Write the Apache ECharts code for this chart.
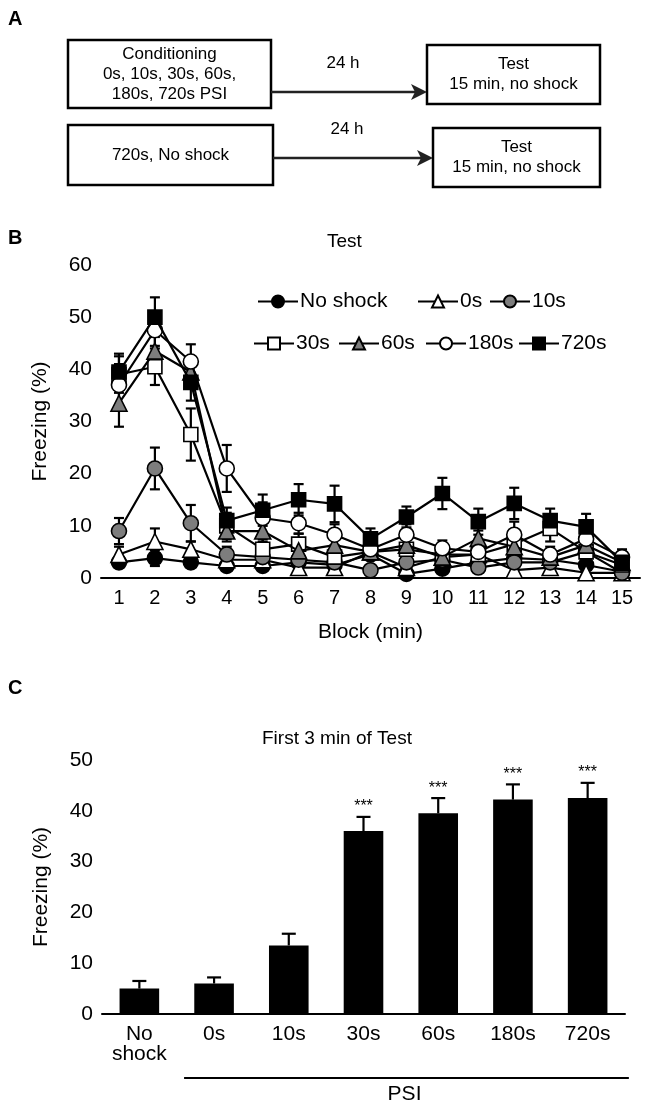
<!DOCTYPE html>
<html><head><meta charset="utf-8">
<script src="https://cdn.jsdelivr.net/npm/echarts@6/dist/echarts.min.js"></script>
<style>html,body{margin:0;padding:0;background:#fff}#c{width:646px;height:1104px}</style>
</head><body><div id="c"></div>
<script>
// ---------- DATA ----------
const protocolText = [
  ['Conditioning\n0s, 10s, 30s, 60s,\n180s, 720s PSI', '24 h', 'Test\n15 min, no shock'],
  ['720s, No shock', '24 h', 'Test\n15 min, no shock']
];
const blocks = ['1','2','3','4','5','6','7','8','9','10','11','12','13','14','15'];
const groupNames = ['No shock','0s','10s','30s','60s','180s','720s'];
const noShock    = [3, 3.8, 3, 2.3, 2.3, 3, 2.5, 4.5, 0.8, 1.8, 3, 3.8, 3.5, 2.5, 1.2];
const psi0s      = [4.5, 7, 5.5, 3.5, 3.5, 2, 2, 5, 2, 4, 4.5, 1.5, 2, 1, 1];
const psi10s     = [9, 21, 10.5, 4.5, 4, 3.5, 3, 1.5, 3, 3.5, 2, 3, 3, 5, 1];
const psi30s     = [39, 40.5, 27.5, 10, 5.5, 6.5, 4, 5, 5.5, 4.5, 4.5, 6.5, 9.5, 5, 2.5];
const psi60s     = [33.5, 43.5, 39.5, 9, 9, 5.2, 6.3, 5, 6.3, 4, 7.6, 6, 4, 6.3, 3];
const psi180s    = [37, 47.5, 41.5, 21, 11.5, 10.5, 8.3, 5.5, 8.3, 5.7, 5, 8.3, 4.5, 7.5, 4];
const psi720s    = [39.5, 50, 37.5, 11, 13, 15, 14.2, 7.5, 11.7, 16.2, 10.8, 14.3, 11, 9.8, 3];
const noShockErr = [1, 1.5, 0.8, 0.8, 0.8, 0.8, 0.8, 0.8, 0.8, 0.8, 0.8, 0.8, 0.8, 0.8, 0.8];
const psi0sErr   = [1.5, 2.5, 1.5, 1, 1, 1, 1, 1, 1, 1, 1, 1, 1, 1, 0.8];
const psi10sErr  = [2.5, 4, 3.5, 1.5, 1.5, 1, 1, 1, 1, 1, 1, 1, 1, 1, 0.8];
const psi30sErr  = [3.5, 3.5, 5, 2.5, 2, 2, 1.5, 1.5, 2, 1.5, 1.5, 2, 2.5, 1.5, 1];
const psi60sErr  = [4.5, 3, 3, 2, 2, 1.5, 1.5, 1.5, 1.5, 1.5, 1.5, 2, 1.5, 1.5, 1];
const psi180sErr = [4, 3, 3.3, 4.5, 3, 2, 2, 1.5, 2, 1.5, 2, 2.5, 1.5, 2, 1.5];
const psi720sErr = [3.5, 3.8, 3.5, 2.5, 3, 3, 3.5, 2, 2, 3, 2.5, 3, 2.3, 2.5, 2];
const barCats = ['No\nshock','0s','10s','30s','60s','180s','720s'];
const barVals = [5, 6, 13.5, 36, 39.5, 42.2, 42.5];
const barErr  = [1.5, 1.2, 2.3, 2.8, 3, 3, 3];
const barSig  = ['', '', '', '***', '***', '***', '***'];

// ---------- STYLE ----------
const FONT = 'Liberation Sans, Arial, sans-serif';
const GRAY = '#7d7d7d';
const groupValues = [noShock, psi0s, psi10s, psi30s, psi60s, psi180s, psi720s];
const groupErrs = [noShockErr, psi0sErr, psi10sErr, psi30sErr, psi60sErr, psi180sErr, psi720sErr];
const groupStyle = [
  {symbol:'circle', fill:'#000', size:15},
  {symbol:'triangle', fill:'#fff', size:16},
  {symbol:'circle', fill:GRAY, size:15},
  {symbol:'rect', fill:'#fff', size:14},
  {symbol:'triangle', fill:GRAY, size:16},
  {symbol:'circle', fill:'#fff', size:15},
  {symbol:'rect', fill:'#000', size:14}
];
const legendPos = [[252,286],[412,286],[484,286],[248,328],[333,328],[420,328],[513,328]];

const chart = echarts.init(document.getElementById('c'), null, {renderer:'canvas'});

function errItem(upOnly, cap){
  return function(params, api){
    const x = api.value(0), y = api.value(1), e = api.value(2);
    const p = api.coord([x, y]);
    const t = api.coord([x, y + e]);
    const b = upOnly ? p : api.coord([x, y - e]);
    const st = {stroke:'#000', lineWidth:2.2};
    const ch = [
      {type:'line', shape:{x1:t[0], y1:t[1], x2:b[0], y2:b[1]}, style:st},
      {type:'line', shape:{x1:t[0]-cap, y1:t[1], x2:t[0]+cap, y2:t[1]}, style:st}
    ];
    if(!upOnly) ch.push({type:'line', shape:{x1:b[0]-cap, y1:b[1], x2:b[0]+cap, y2:b[1]}, style:st});
    const sig = api.value(3);
    if (sig) ch.push({type:'text', x:t[0], y:t[1]-2, style:{text:barSig[params.dataIndex], align:'center', verticalAlign:'bottom', font:'16px '+FONT, fill:'#000'}});
    return {type:'group', children:ch};
  };
}

const series = [];
groupNames.forEach((n, gi) => {
  series.push({
    type:'custom', xAxisIndex:0, yAxisIndex:0, z:1, silent:true,
    renderItem: errItem(false, 5),
    data: groupValues[gi].map((v, i) => [i, v, groupErrs[gi][i], 0])
  });
});
groupNames.forEach((n, gi) => {
  const s = groupStyle[gi];
  series.push({
    name:n, type:'line', xAxisIndex:0, yAxisIndex:0, z:3 + gi,
    data: groupValues[gi],
    symbol:s.symbol, symbolSize:s.size, showAllSymbol:true,
    lineStyle:{color:'#000', width:2.2},
    itemStyle:{color:s.fill, borderColor:'#000', borderWidth:1.6},
    emphasis:{disabled:true}, animation:false
  });
});
series.push({
  type:'bar', xAxisIndex:1, yAxisIndex:1, data: barVals, barWidth:'53%',
  itemStyle:{color:'#000'}, z:2, animation:false
});
series.push({
  type:'custom', xAxisIndex:1, yAxisIndex:1, z:3,
  renderItem: errItem(true, 7),
  data: barVals.map((v, i) => [i, v, barErr[i], barSig[i] ? 1 : 0])
});

const legends = groupNames.map((n, i) => ({
  data:[n], left:legendPos[i][0], top:legendPos[i][1], selectedMode:false,
  itemWidth:40, itemHeight:15, itemGap:0,
  textStyle:{fontFamily:FONT, fontSize:21, color:'#000', padding:[0,0,0,-3]}
}));

const axisCommon = {
  axisLine:{lineStyle:{color:'#000', width:2}},
  axisTick:{lineStyle:{color:'#000', width:2}, length:6},
  splitLine:{show:false}
};

const option = {
  animation:false,
  backgroundColor:'#fff',
  title:[
    {text:'Test', left:327, top:232, textStyle:{fontFamily:FONT, fontSize:19, fontWeight:'normal', color:'#000'}, padding:0},
    {text:'First 3 min of Test', left:262, top:729, textStyle:{fontFamily:FONT, fontSize:19, fontWeight:'normal', color:'#000'}, padding:0}
  ],
  legend: legends,
  grid:[
    {left:101, top:265, width:539, height:313},
    {left:102, top:760, width:523, height:254}
  ],
  xAxis:[
    Object.assign({}, axisCommon, {type:'category', gridIndex:0, data:blocks, boundaryGap:true,
      name:'Block (min)', nameLocation:'middle', nameGap:44,
      nameTextStyle:{fontFamily:FONT, fontSize:21, color:'#000'},
      axisLabel:{fontFamily:FONT, fontSize:20, color:'#000', margin:10, interval:0}}),
    Object.assign({}, axisCommon, {type:'category', gridIndex:1, data:barCats, boundaryGap:true,
      axisLabel:{fontFamily:FONT, fontSize:21, color:'#000', margin:10, interval:0, lineHeight:20}})
  ],
  yAxis:[
    Object.assign({}, axisCommon, {type:'value', gridIndex:0, min:0, max:60, interval:10,
      name:'Freezing (%)', nameLocation:'middle', nameGap:50, nameRotate:90,
      nameTextStyle:{fontFamily:FONT, fontSize:21, color:'#000'},
      axisLabel:{fontFamily:FONT, fontSize:21, color:'#000', margin:9}}),
    Object.assign({}, axisCommon, {type:'value', gridIndex:1, min:0, max:50, interval:10,
      name:'Freezing (%)', nameLocation:'middle', nameGap:50, nameRotate:90,
      nameTextStyle:{fontFamily:FONT, fontSize:21, color:'#000'},
      axisLabel:{fontFamily:FONT, fontSize:21, color:'#000', margin:9}})
  ],
  series: series
};
chart.setOption(option);

// ---------- Panel A diagram + annotations ----------
function box(x, y, w, h){ return {type:'rect', shape:{x:x, y:y, width:w, height:h}, style:{fill:'#fff', stroke:'#000', lineWidth:2.5}}; }
function txt(s, x, y, size, bold){ return {type:'text', x:x, y:y, style:{text:s, align:'center', verticalAlign:'middle', font:(bold?'bold ':'')+size+'px '+FONT, fill:'#000', lineHeight:Math.round(size*1.15)}}; }
function arrow(x1, x2, y){
  return [
    {type:'line', shape:{x1:x1, y1:y, x2:x2-12, y2:y}, style:{stroke:'#222', lineWidth:2.5}},
    {type:'polygon', shape:{points:[[x2-16, y-8],[x2, y],[x2-16, y+8],[x2-12,y]]}, style:{fill:'#222'}}
  ];
}
const rowGeo = [
  {bx:68, by:40, bw:203, bh:68, ay:92, rx:427, ry:45, rw:173, rh:59, ty:63},
  {bx:68, by:125, bw:205, bh:60, ay:158, rx:433, ry:128, rw:167, rh:59, ty:129}
];
const g = [];
g.push({type:'text', x:8, y:9, style:{text:'A', font:'bold 20px '+FONT, fill:'#000'}});
g.push({type:'text', x:8, y:228, style:{text:'B', font:'bold 20px '+FONT, fill:'#000'}});
g.push({type:'text', x:8, y:678, style:{text:'C', font:'bold 20px '+FONT, fill:'#000'}});
protocolText.forEach((r, i) => {
  const q = rowGeo[i];
  g.push(box(q.bx, q.by, q.bw, q.bh));
  g.push(txt(r[0], q.bx + q.bw/2, q.by + q.bh/2, 17));
  arrow(q.bx + q.bw, q.rx, q.ay).forEach(e => g.push(e));
  g.push(txt(r[1], (q.bx + q.bw + q.rx)/2 - 6, q.ty, 17));
  g.push(box(q.rx, q.ry, q.rw, q.rh));
  g.push(txt(r[2], q.rx + q.rw/2, q.ry + q.rh/2, 17));
});
// PSI bracket line under bar categories
const c1 = chart.convertToPixel({xAxisIndex:1}, 1);
const cL = chart.convertToPixel({xAxisIndex:1}, 6);
const yb = chart.convertToPixel({yAxisIndex:1}, 0);
const half = (cL - c1) / 10;
g.push({type:'line', shape:{x1:c1 - 30, y1:yb + 64, x2:cL + half*1.05 + 2, y2:yb + 64}, style:{stroke:'#000', lineWidth:2}});
g.push({type:'text', x:(c1 - 30 + cL + half)/2, y:yb + 80, style:{text:'PSI', align:'center', verticalAlign:'middle', font:'21px '+FONT, fill:'#000'}});
chart.setOption({graphic:{elements:g}});
</script>
</body></html>
